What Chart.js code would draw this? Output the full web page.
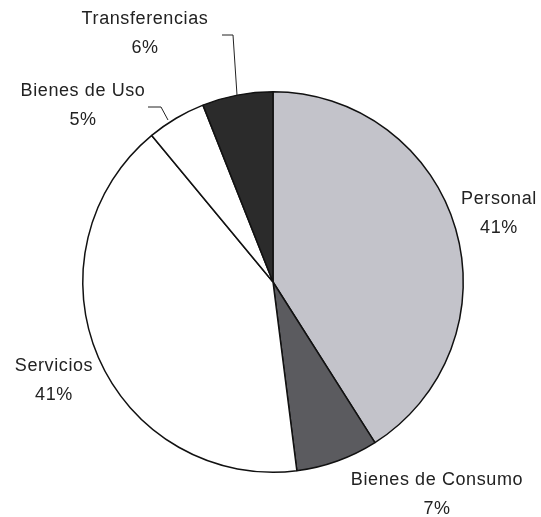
<!DOCTYPE html>
<html>
<head>
<meta charset="utf-8">
<script src="https://cdn.jsdelivr.net/npm/chart.js@4"></script>
<style>
    html, body { margin: 0; padding: 0; background: #fff; }
    #wrap { width: 541px; height: 517px; }
</style>
</head>
<body>
<div id="wrap"><canvas id="pie-chart" width="541" height="517"></canvas></div>
<script>
// data
const categories = ['Personal', 'Bienes de Consumo', 'Servicios', 'Bienes de Uso', 'Transferencias'];
const shares = [41, 7, 41, 5, 6];
const percentLabels = ['41%', '7%', '41%', '5%', '6%'];

const sliceColors = ['#c3c3ca', '#5b5b5f', '#ffffff', '#ffffff', '#2b2b2b'];

// label placement relative to pie centre (px)
const labelOffsets = [
    [226, -83],
    [164, 198],
    [-219, 84],
    [-190, -191],
    [-128, -263]
];
// leader lines relative to pie centre (px)
const leaders = {
    3: [[-125, -175], [-112, -175], [-105, -162]],
    4: [[-51, -247], [-40, -247], [-36, -187]]
};

const outsideLabels = {
    id: 'outsideLabels',
    afterDatasetsDraw(chart) {
        const ctx = chart.ctx;
        const arc = chart.getDatasetMeta(0).data[0];
        const cx = arc.x, cy = arc.y;
        ctx.save();
        ctx.font = '18px "Liberation Sans", Arial, sans-serif';
        if ('letterSpacing' in ctx) ctx.letterSpacing = '0.6px';
        ctx.fillStyle = '#222';
        ctx.textAlign = 'center';
        ctx.textBaseline = 'middle';
        categories.forEach((name, i) => {
            const [dx, dy] = labelOffsets[i];
            ctx.fillText(name, cx + dx, cy + dy);
            ctx.fillText(percentLabels[i], cx + dx, cy + dy + 29);
        });
        ctx.strokeStyle = '#222';
        ctx.lineWidth = 1;
        Object.values(leaders).forEach(pts => {
            ctx.beginPath();
            pts.forEach(([x, y], k) => {
                if (k === 0) ctx.moveTo(cx + x, cy + y);
                else ctx.lineTo(cx + x, cy + y);
            });
            ctx.stroke();
        });
        ctx.restore();
    }
};

new Chart(document.getElementById('pie-chart'), {
    type: 'pie',
    data: {
        labels: categories,
        datasets: [{
            data: shares,
            backgroundColor: sliceColors,
            borderColor: '#111',
            borderWidth: 1.5,
            hoverOffset: 0
        }]
    },
    options: {
        responsive: false,
        animation: false,
        layout: {
            padding: { left: 82, right: 77, top: 91, bottom: 44 }
        },
        plugins: {
            legend: { display: false },
            tooltip: { enabled: false }
        }
    },
    plugins: [outsideLabels]
});
</script>
</body>
</html>
